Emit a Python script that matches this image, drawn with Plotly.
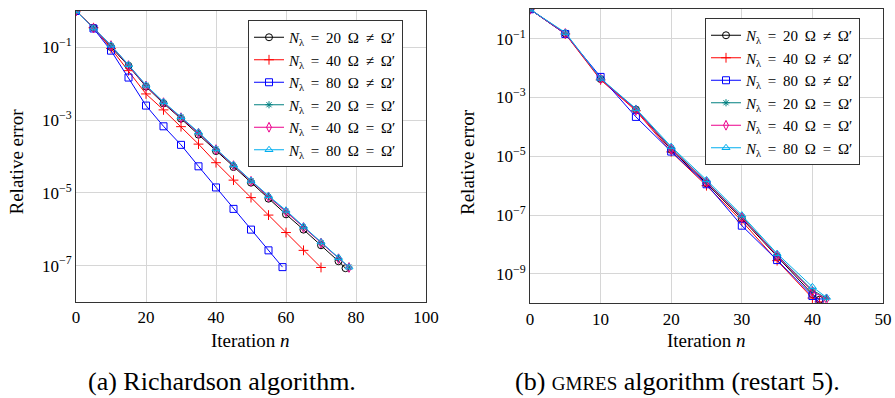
import plotly.graph_objects as go

# ---------------- Data: (a) Richardson ----------------
rich_x_20ne = [0, 5, 10, 15, 20, 25, 30, 35, 40, 45, 50, 55, 60, 65, 70, 75, 77]
rich_y_20ne = [1.0, 0.347, 0.102, 0.0309, 0.00832, 0.00288, 0.001096, 3.98e-4, 1.41e-4,
               5.13e-5, 1.91e-5, 6.92e-6, 2.57e-6, 9.77e-7, 3.63e-7, 1.32e-7, 8.5e-8]
rich_x_40ne = [0, 5, 10, 15, 20, 25, 30, 35, 40, 45, 50, 55, 60, 65, 70]
rich_y_40ne = [1.0, 0.347, 0.0933, 0.0229, 0.00525, 0.00191, 6.61e-4, 2.19e-4, 6.76e-5,
               2.24e-5, 7.41e-6, 2.45e-6, 8.13e-7, 2.63e-7, 8.9e-8]
rich_x_80ne = [0, 5, 10, 15, 20, 25, 30, 35, 40, 45, 50, 55, 59]
rich_y_80ne = [1.0, 0.331, 0.0813, 0.0148, 0.00251, 6.76e-4, 2.09e-4, 5.37e-5, 1.41e-5,
               3.63e-6, 9.77e-7, 2.63e-7, 9.1e-8]
rich_x_eq = [0, 5, 10, 15, 20, 25, 30, 35, 40, 45, 50, 55, 60, 65, 70, 75, 78]
rich_y_20eq = [1.0, 0.339, 0.112, 0.0324, 0.00891, 0.00309, 0.0012, 4.47e-4, 1.58e-4,
               5.75e-5, 2.14e-5, 7.94e-6, 3.09e-6, 1.15e-6, 4.27e-7, 1.58e-7, 9.1e-8]
rich_y_40eq = [1.0, 0.339, 0.112, 0.0316, 0.0087, 0.00302, 0.00117, 4.37e-4, 1.55e-4,
               5.62e-5, 2.09e-5, 7.76e-6, 3.02e-6, 1.12e-6, 4.17e-7, 1.55e-7, 8.9e-8]
rich_y_80eq = [1.0, 0.339, 0.115, 0.0331, 0.00912, 0.00316, 0.00123, 4.68e-4, 1.62e-4,
               5.89e-5, 2.19e-5, 8.32e-6, 3.31e-6, 1.2e-6, 4.47e-7, 1.66e-7, 9.1e-8]

# ---------------- Data: (b) GMRES ----------------
gm_x_41 = [0, 5, 10, 15, 20, 25, 30, 35, 40, 41]
gm_x_42 = [0, 5, 10, 15, 20, 25, 30, 35, 40, 42]
gm_y_20ne = [1.0, 0.151, 4.27e-3, 3.89e-4, 1.66e-5, 1.2e-6, 7.59e-8, 3.8e-9, 2.04e-10, 1.32e-10]
gm_y_40ne = [1.0, 0.145, 3.98e-3, 3.55e-4, 1.41e-5, 1.0e-6, 6.31e-8, 2.82e-9, 1.51e-10, 1.12e-10]
gm_y_80ne = [1.0, 0.145, 5.01e-3, 2.19e-4, 1.45e-5, 1.12e-6, 4.37e-8, 2.95e-9, 1.78e-10, 1.07e-10]
gm_y_20eq = [1.0, 0.151, 4.37e-3, 3.98e-4, 1.91e-5, 1.38e-6, 8.91e-8, 4.37e-9, 2.82e-10, 1.48e-10]
gm_y_40eq = [1.0, 0.151, 4.27e-3, 3.8e-4, 1.78e-5, 1.32e-6, 8.32e-8, 4.17e-9, 2.51e-10, 1.41e-10]
gm_y_80eq = [1.0, 0.162, 4.47e-3, 4.17e-4, 2.14e-5, 1.58e-6, 1.0e-7, 4.9e-9, 3.63e-10, 1.58e-10]

SP = "\u00a0\u2009"
series_names = [
    "<i>N</i><sub>λ</sub>" + SP + "=" + SP + "20" + SP + "Ω" + SP + "≠" + SP + "Ω′",
    "<i>N</i><sub>λ</sub>" + SP + "=" + SP + "40" + SP + "Ω" + SP + "≠" + SP + "Ω′",
    "<i>N</i><sub>λ</sub>" + SP + "=" + SP + "80" + SP + "Ω" + SP + "≠" + SP + "Ω′",
    "<i>N</i><sub>λ</sub>" + SP + "=" + SP + "20" + SP + "Ω" + SP + "=" + SP + "Ω′",
    "<i>N</i><sub>λ</sub>" + SP + "=" + SP + "40" + SP + "Ω" + SP + "=" + SP + "Ω′",
    "<i>N</i><sub>λ</sub>" + SP + "=" + SP + "80" + SP + "Ω" + SP + "=" + SP + "Ω′",
]
colors = ["#000000", "#ff0000", "#0000ff", "#008080", "#ec008c", "#00aeef"]
symbols = ["circle-open", "cross-thin-open", "square-open", "asterisk-open",
           "diamond-tall-open", "triangle-up-open"]
sizes = [7, 7, 7, 6, 7, 7]

rich_x = [rich_x_20ne, rich_x_40ne, rich_x_80ne, rich_x_eq, rich_x_eq, rich_x_eq]
rich_y = [rich_y_20ne, rich_y_40ne, rich_y_80ne, rich_y_20eq, rich_y_40eq, rich_y_80eq]
gm_x = [gm_x_41, gm_x_41, gm_x_41, gm_x_42, gm_x_42, gm_x_42]
gm_y = [gm_y_20ne, gm_y_40ne, gm_y_80ne, gm_y_20eq, gm_y_40eq, gm_y_80eq]

W, H = 895, 398
FONT = "'Liberation Serif', 'DejaVu Serif', 'Times New Roman', serif"

fig = go.Figure()
for i in range(6):
    fig.add_trace(go.Scatter(
        x=rich_x[i], y=rich_y[i], mode="lines+markers", name=series_names[i],
        line=dict(color=colors[i], width=1),
        marker=dict(symbol=symbols[i], size=sizes[i], color=colors[i],
                    line=dict(color=colors[i], width=1)),
        xaxis="x", yaxis="y", legend="legend", legendgroup="a%d" % i))
for i in range(6):
    fig.add_trace(go.Scatter(
        x=gm_x[i], y=gm_y[i], mode="lines+markers", name=series_names[i],
        line=dict(color=colors[i], width=1),
        marker=dict(symbol=symbols[i], size=sizes[i], color=colors[i],
                    line=dict(color=colors[i], width=1)),
        xaxis="x2", yaxis="y2", legend="legend2", legendgroup="b%d" % i))

axis_common = dict(showline=True, linecolor="#333333", linewidth=1, mirror=True,
                   showgrid=True, gridcolor="#d6d6d6", gridwidth=1, zeroline=False,
                   ticks="", automargin=False,
                   tickfont=dict(family=FONT, size=17, color="#000000"))

def px_x(p):
    return p / W

def px_y(p):
    return 1 - p / H

fig.update_layout(
    width=W, height=H, margin=dict(l=0, r=0, t=0, b=0, autoexpand=False),
    paper_bgcolor="white", plot_bgcolor="white",
    font=dict(family=FONT, color="#000000"),
    xaxis=dict(domain=[px_x(76), px_x(426)], range=[0, 100], tickvals=[0, 20, 40, 60, 80, 100],
               anchor="y", **axis_common),
    yaxis=dict(domain=[px_y(302), px_y(11)], type="log", range=[-8, 0],
               tickvals=[1e-1, 1e-3, 1e-5, 1e-7],
               ticktext=["10<sup>−1</sup>", "10<sup>−3</sup>", "10<sup>−5</sup>", "10<sup>−7</sup>"],
               anchor="x", **axis_common),
    xaxis2=dict(domain=[px_x(530), px_x(883)], range=[0, 50], tickvals=[0, 10, 20, 30, 40, 50],
                anchor="y2", **axis_common),
    yaxis2=dict(domain=[px_y(303.3), px_y(9.3)], type="log", range=[-10, 0],
                tickvals=[1e-1, 1e-3, 1e-5, 1e-7, 1e-9],
                ticktext=["10<sup>−1</sup>", "10<sup>−3</sup>", "10<sup>−5</sup>",
                          "10<sup>−7</sup>", "10<sup>−9</sup>"],
                anchor="x2", **axis_common),
    legend=dict(x=px_x(248), y=px_y(20), xanchor="left", yanchor="top",
                bgcolor="white", bordercolor="#333333", borderwidth=1,
                font=dict(family=FONT, size=15), tracegroupgap=0, itemwidth=30),
    legend2=dict(x=px_x(705), y=px_y(18), xanchor="left", yanchor="top",
                 bgcolor="white", bordercolor="#333333", borderwidth=1,
                 font=dict(family=FONT, size=15), tracegroupgap=0, itemwidth=30),
    showlegend=True,
)

ann = dict(xref="paper", yref="paper", showarrow=False, font=dict(family=FONT, size=19, color="#000"))
fig.add_annotation(x=px_x(251), y=px_y(340), text="Iteration <i>n</i>", xanchor="center", yanchor="middle", **ann)
fig.add_annotation(x=px_x(706), y=px_y(340), text="Iteration <i>n</i>", xanchor="center", yanchor="middle", **ann)
fig.add_annotation(x=px_x(15.5), y=px_y(162), text="Relative error", textangle=-90, xanchor="center", yanchor="middle", **ann)
fig.add_annotation(x=px_x(467), y=px_y(162), text="Relative error", textangle=-90, xanchor="center", yanchor="middle", **ann)

cap = dict(xref="paper", yref="paper", showarrow=False, font=dict(family=FONT, size=26, color="#000"),
           xanchor="center", yanchor="middle")
fig.add_annotation(x=px_x(222), y=px_y(381), text="(a) Richardson algorithm.", **cap)
fig.add_annotation(x=px_x(677), y=px_y(381),
                   text="(b) <span style='font-size:19px'>GMRES</span> algorithm (restart 5).", **cap)

fig.write_html("out.html", config={"displayModeBar": False},
               post_script="document.body.style.margin='0px';")
